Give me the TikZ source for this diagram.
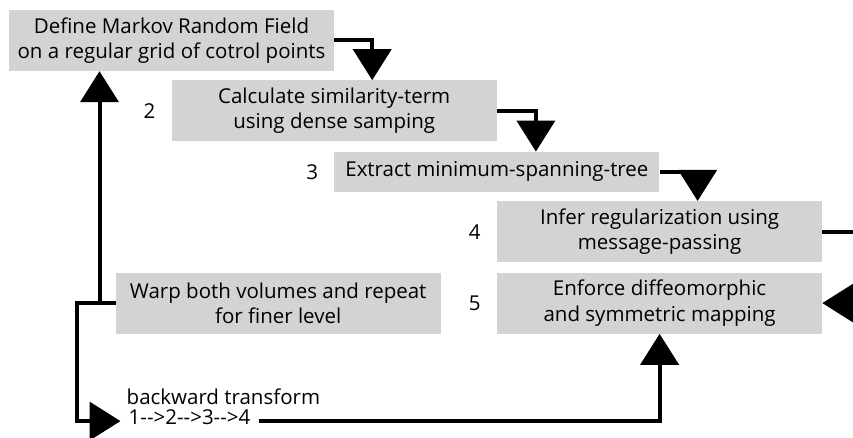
\documentclass[tikz,border=0pt]{standalone}
\usepackage{fontspec}
\setmainfont{Open Sans}
\usepackage{tikz}
\usetikzlibrary{positioning, arrows.meta, calc}
\definecolor{boxgray}{RGB}{211,211,211}

\begin{document}
\begin{tikzpicture}[
    x=1pt, y=1pt,
    node distance=9pt and 16pt,
    every node/.style={font=\fontsize{20.5}{25.5}\selectfont},
    stepbox/.style={fill=boxgray, minimum width=325pt, minimum height=61pt, align=center, inner sep=2pt},
    number/.style={inner sep=0pt},
    plain/.style={inner sep=0pt},
    arrow/.style={-{Triangle[length=31pt, width=38pt]}, black, line width=4pt}
]
\clip (0,0) rectangle (853,437);
\useasboundingbox (0,0) rectangle (853,437);

% Step 1
\node[stepbox] (mrf) at (171.5,396.5) {Define Markov Random Field\\on a regular grid of cotrol points};

% Steps 2 to 4, staggered
\node[stepbox, below=9pt of mrf.south east] (simterm) {Calculate similarity-term\\using dense samping};
\node[stepbox, minimum height=40pt, below=10pt of simterm.south east] (mst) {Extract minimum-spanning-tree};
\node[stepbox, below=9pt of mst.south east] (regul) {Infer regularization using\\message-passing};

% Step 5 and warping
\node[stepbox, below=10pt of regul] (diffeo) {Enforce diffeomorphic\\and symmetric mapping};
\node[stepbox, left=56pt of diffeo] (warp) {Warp both volumes and repeat\\for finer level};

% Step numbers
\node[number, left=of simterm] (n2) {2};
\node[number, left=of mst] (n3) {3};
\node[number, left=of regul] (n4) {4};
\node[number, left=of diffeo] (n5) {5};

% Backward transform
\node[plain, inner xsep=8pt, text height=12pt, text depth=5pt, anchor=west] (seq) at ($(warp.west)+(5,-118)$) {1-{}->2-{}->3-{}->4};
\node[plain, inner xsep=6pt, above=8pt of seq.north west, anchor=south west] (back) {backward transform};

% Arrows between steps
\draw[arrow] (mrf.east) -| ([xshift=38pt]simterm.north);
\draw[arrow] (simterm.east) -| ([xshift=39pt]mst.north);
\draw[arrow] (mst.east) -| ([xshift=38pt]regul.north);
\draw[arrow] (regul.east) -- ++(40,0) |- (diffeo.east);

% Arrows from warp
\coordinate (split) at ($(warp.west)+(-16,0)$);
\draw[arrow] (warp.west) -- ++(-39,0) |- (seq.west);
\draw[arrow] (split) -- (split |- mrf.south);
\draw[arrow] (seq.east) -| (diffeo.south);

\end{tikzpicture}
\end{document}
